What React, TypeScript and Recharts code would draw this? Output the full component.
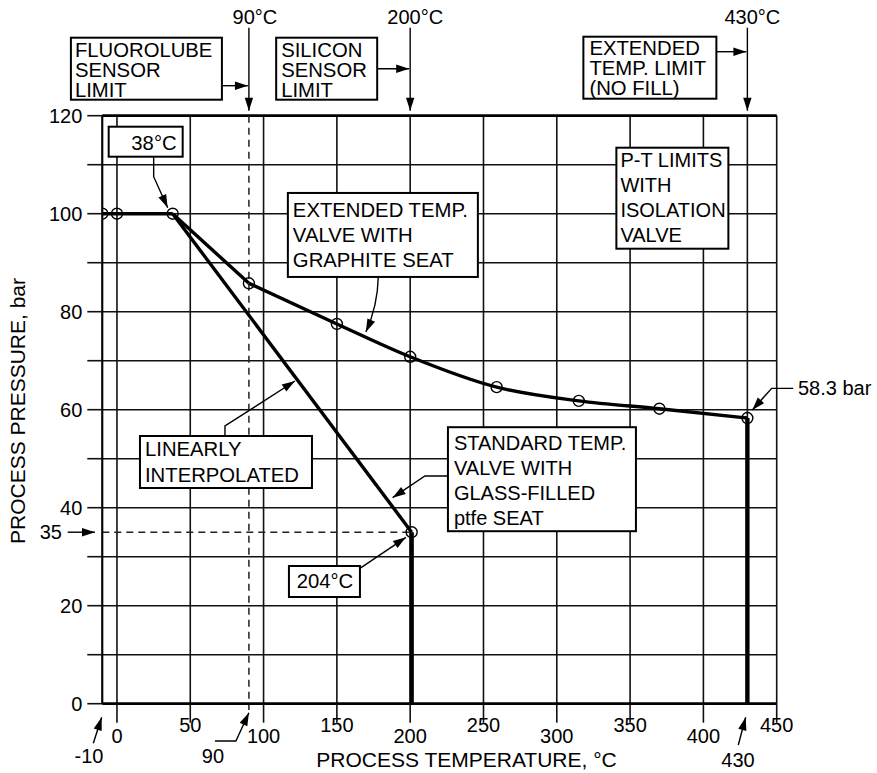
import React from 'react';
import {
  ComposedChart,
  Line,
  XAxis,
  YAxis,
  CartesianGrid,
  ReferenceLine,
  ReferenceDot,
  Label,
} from 'recharts';

const FONT = '"Liberation Sans", Arial, Helvetica, sans-serif';
const INK = '#000';
const GRID = '#111';

// ---------- data ----------
const flatTemps = [-10, 0, 38];
const flatPressures = [100, 100, 100];
const stdTemps = [38, 201];
const stdPressures = [100, 35];
const extStraightTemps = [38, 90];
const extStraightPressures = [100, 85.8];
const extCurveTemps = [90, 150, 200, 259, 315, 370, 430];
const extCurvePressures = [85.8, 77.5, 70.8, 64.6, 61.8, 60.2, 58.3];
const stdDropTemps = [201, 201];
const stdDropPressures = [35, 0];
const extDropTemps = [430, 430];
const extDropPressures = [58.3, 0];
const xTicks = [0, 50, 100, 150, 200, 250, 300, 350, 400, 450];
const yTicks = [0, 10, 20, 30, 40, 50, 60, 70, 80, 90, 100, 110, 120];
const sensorLimitTemps = [90, 200, 430];

const zip = (ts: number[], ps: number[]) => ts.map((t, i) => ({ t, p: ps[i] }));
const flatData = zip(flatTemps, flatPressures);
const stdData = zip(stdTemps, stdPressures);
const extStraightData = zip(extStraightTemps, extStraightPressures);
const extCurveData = zip(extCurveTemps, extCurvePressures);
const stdDropData = zip(stdDropTemps, stdDropPressures);
const extDropData = zip(extDropTemps, extDropPressures);

// ---------- annotation helpers ----------
type Pt = [number, number];
interface BoxSpec {
  x: number; y: number; w: number; h: number;
  lines: string[]; tx: number; ty: number; lh: number;
  anchor?: 'start' | 'middle' | 'end';
  fs?: number;
}
interface ArrowSpec { pts: Pt[]; curve?: boolean; head?: boolean }
interface TextSpec { x: number; y: number; text: string; anchor?: 'start' | 'middle' | 'end'; size?: number }
interface CalloutSpec { boxes?: BoxSpec[]; arrows?: ArrowSpec[]; texts?: TextSpec[] }

const BOX_FS = 20.3;
const TXT_FS = 20;

function Head({ tip, from }: { tip: Pt; from: Pt }) {
  const dx = tip[0] - from[0];
  const dy = tip[1] - from[1];
  const len = Math.hypot(dx, dy) || 1;
  const ux = dx / len, uy = dy / len;
  const L = 13, W = 4.2;
  const bx = tip[0] - ux * L, by = tip[1] - uy * L;
  const p1 = `${bx - uy * W},${by + ux * W}`;
  const p2 = `${bx + uy * W},${by - ux * W}`;
  return <polygon points={`${tip[0]},${tip[1]} ${p1} ${p2}`} fill={INK} />;
}

function Callout({ cx, cy, spec }: { cx: number; cy: number; spec: CalloutSpec }) {
  const P = (p: Pt): Pt => [cx + p[0], cy + p[1]];
  return (
    <g>
      {(spec.arrows || []).map((a, i) => {
        const pts = a.pts.map(P);
        let d = '';
        if (a.curve && pts.length === 3) {
          d = `M${pts[0][0]},${pts[0][1]} Q${pts[1][0]},${pts[1][1]} ${pts[2][0]},${pts[2][1]}`;
        } else {
          d = pts.map((p, j) => `${j ? 'L' : 'M'}${p[0]},${p[1]}`).join(' ');
        }
        const tip = pts[pts.length - 1];
        const from = pts[pts.length - 2];
        return (
          <g key={'a' + i}>
            <path d={d} fill="none" stroke={INK} strokeWidth={1.4} />
            {a.head !== false && <Head tip={tip} from={from} />}
          </g>
        );
      })}
      {(spec.boxes || []).map((b, i) => (
        <g key={'b' + i}>
          <rect x={cx + b.x} y={cy + b.y} width={b.w} height={b.h} fill="#fff" stroke={INK} strokeWidth={2} />
          {b.lines.map((ln, j) => (
            <text
              key={j}
              x={cx + b.tx}
              y={cy + b.ty + j * b.lh}
              textAnchor={b.anchor || 'start'}
              fontSize={b.fs || BOX_FS}
              fontFamily={FONT}
              fill={INK}
            >
              {ln}
            </text>
          ))}
        </g>
      ))}
      {(spec.texts || []).map((t, i) => (
        <text
          key={'t' + i}
          x={cx + t.x}
          y={cy + t.y}
          textAnchor={t.anchor || 'middle'}
          fontSize={t.size || TXT_FS}
          fontFamily={FONT}
          fill={INK}
        >
          {t.text}
        </text>
      ))}
    </g>
  );
}

// ---------- annotation specs (pixel offsets from anchor) ----------
const top90: CalloutSpec = {
  arrows: [
    { pts: [[0, -88], [0, -5]] },
    { pts: [[-27, -30], [-1, -30]] },
  ],
  texts: [{ x: 6, y: -92, text: '90°C' }],
  boxes: [{ x: -178, y: -78, w: 151, h: 62, lines: ['FLUOROLUBE', 'SENSOR', 'LIMIT'], tx: -174, ty: -59, lh: 20 }],
};
const top200: CalloutSpec = {
  arrows: [
    { pts: [[0, -88], [0, -5]] },
    { pts: [[-33, -47], [-1, -47]] },
  ],
  texts: [{ x: 5, y: -92, text: '200°C' }],
  boxes: [{ x: -134, y: -78, w: 101, h: 62, lines: ['SILICON', 'SENSOR', 'LIMIT'], tx: -129, ty: -59, lh: 20 }],
};
const top430: CalloutSpec = {
  arrows: [
    { pts: [[0, -88], [0, -5]] },
    { pts: [[-31, -64], [-1, -64]] },
  ],
  texts: [{ x: 5, y: -92, text: '430°C' }],
  boxes: [{ x: -164, y: -79, w: 133, h: 62, lines: ['EXTENDED', 'TEMP. LIMIT', '(NO FILL)'], tx: -158, ty: -61, lh: 20 }],
};
const ptBox: CalloutSpec = {
  boxes: [{ x: -131, y: -66, w: 112, h: 101, lines: ['P-T LIMITS', 'WITH', 'ISOLATION', 'VALVE'], tx: -127, ty: -47, lh: 25, fs: 20 }],
};
const c38: CalloutSpec = {
  arrows: [{ pts: [[-19, -57], [-19, -37], [-5, -6]] }],
  boxes: [{ x: -64, y: -87, w: 74, h: 30, lines: ['38°C'], tx: 4, ty: -64, lh: 20, anchor: 'end' }],
};
const graphite: CalloutSpec = {
  arrows: [{ pts: [[41.4, -47], [40.8, -18], [29, 8]], curve: true }],
  boxes: [{ x: -49, y: -131, w: 190, h: 84, lines: ['EXTENDED TEMP.', 'VALVE WITH', 'GRAPHITE SEAT'], tx: -44, ty: -107, lh: 25 }],
};
const linear: CalloutSpec = {
  arrows: [{ pts: [[52.3, 222.3], [52.3, 212.3], [122.3, 167.3]] }],
  boxes: [{ x: -32.7, y: 222.3, w: 172, h: 52, lines: ['LINEARLY', 'INTERPOLATED'], tx: -27.7, ty: 242.3, lh: 25.7 }],
};
const standard: CalloutSpec = {
  arrows: [{ pts: [[36.6, -56.2], [13.3, -56.2], [-19, -34.5]] }],
  boxes: [{
    x: 36.3, y: -105, w: 188, h: 104,
    lines: ['STANDARD TEMP.', 'VALVE WITH', 'GLASS-FILLED', 'ptfe SEAT'], tx: 42.3, ty: -82, lh: 25, fs: 20,
  }],
};
const c204: CalloutSpec = {
  arrows: [{ pts: [[-51.7, 36.1], [-5.7, 5.1]] }],
  boxes: [{ x: -122.7, y: 33.8, w: 71, h: 31, lines: ['204°C'], tx: -86.7, ty: 56, lh: 20, anchor: 'middle' }],
};
const c35: CalloutSpec = {
  arrows: [{ pts: [[-34.6, 0], [-7.3, 0]] }],
  texts: [{ x: -40.3, y: 6.5, text: '35', anchor: 'end' }],
};
const c583: CalloutSpec = {
  arrows: [{ pts: [[45.9, -29.7], [24.3, -29.7], [4.9, -8]] }],
  texts: [{ x: 50.6, y: -23, text: '58.3 bar', anchor: 'start' }],
};
const bm10: CalloutSpec = {
  arrows: [{ pts: [[-9, 39.6], [-0.6, 13.6]] }],
  texts: [{ x: -13.3, y: 59.6, text: '-10' }],
};
const b90: CalloutSpec = {
  arrows: [{ pts: [[-34, 37.3], [-13, 37.3], [0, 9]] }],
  texts: [{ x: -36, y: 59.6, text: '90' }],
};
const b430: CalloutSpec = {
  arrows: [{ pts: [[-9.1, 41.3], [-1.7, 13.6]] }],
  texts: [{ x: -9.4, y: 63.6, text: '430' }],
};

// ---------- ticks & dots ----------
const X_TICK_SIZE = 19;
const Y_TICK_SIZE = 15;

const XTick = (props: any) => {
  const { x, y, payload } = props;
  const v = payload.value as number;
  const low = (v / 50) % 2 === 0;
  return (
    <text x={x} y={y + (low ? 20.6 : 9)} textAnchor="middle" fontSize={TXT_FS} fontFamily={FONT} fill={INK}>
      {v}
    </text>
  );
};
const YTick = (props: any) => {
  const { x, y, payload } = props;
  const v = payload.value as number;
  if (v % 20 !== 0) return <g />;
  return (
    <text x={x} y={y + 7} textAnchor="end" fontSize={TXT_FS} fontFamily={FONT} fill={INK}>
      {v}
    </text>
  );
};
const Ring = (props: any) => {
  const { cx, cy, index } = props;
  return <circle key={'r' + index} cx={cx} cy={cy} r={5.5} fill="none" stroke={INK} strokeWidth={1.4} />;
};
const LastRing = (props: any) => {
  const { cx, cy, index } = props;
  if (index !== stdData.length - 1) return <g key={'n' + index} />;
  return <circle key={'r' + index} cx={cx} cy={cy} r={5.5} fill="none" stroke={INK} strokeWidth={1.4} />;
};

const XTitle = (props: any) => {
  const vb = props.viewBox || {};
  return (
    <text x={vb.x + vb.width / 2 + 27} y={vb.y + 63.3} textAnchor="middle" fontSize={21} fontFamily={FONT} fill={INK}>
      PROCESS TEMPERATURE, °C
    </text>
  );
};
const YTitle = (props: any) => {
  const vb = props.viewBox || {};
  const x = vb.x + vb.width - 77.3;
  const y = vb.y + vb.height / 2 + 1.3;
  return (
    <text x={x} y={y} transform={`rotate(-90 ${x} ${y})`} textAnchor="middle" fontSize={21} fontFamily={FONT} fill={INK}>
      PROCESS PRESSURE, bar
    </text>
  );
};

const dot = (spec: CalloutSpec) => (props: any) => <Callout cx={props.cx} cy={props.cy} spec={spec} />;

const Y_AXIS_W = 90;
const X_AXIS_H = 60;
const CURVE_W = 3.4;
const DROP_W = 4.4;

export default function App() {
  return (
    <div style={{ position: 'absolute', left: 0, top: 0, width: 877, height: 773, background: '#fff' }}>
      <ComposedChart
        width={877}
        height={773}
        margin={{ top: 115.7, right: 100.3, bottom: 69.3 - X_AXIS_H, left: 102.3 - Y_AXIS_W }}
      >
        <CartesianGrid stroke={GRID} strokeWidth={1.6} />
        <XAxis
          dataKey="t"
          type="number"
          domain={[-10, 450]}
          ticks={xTicks}
          interval={0}
          height={X_AXIS_H}
          tickSize={X_TICK_SIZE}
          tickMargin={0}
          tick={<XTick />}
          tickLine={{ stroke: GRID, strokeWidth: 1.6 }}
          axisLine={{ stroke: INK, strokeWidth: 2.8 }}
          allowDataOverflow
          label={<Label content={XTitle} />}
        />
        <YAxis
          dataKey="p"
          type="number"
          domain={[0, 120]}
          ticks={yTicks}
          interval={0}
          width={Y_AXIS_W}
          tickSize={Y_TICK_SIZE}
          tickMargin={5}
          tick={<YTick />}
          tickLine={{ stroke: GRID, strokeWidth: 1.6 }}
          axisLine={{ stroke: INK, strokeWidth: 1.9 }}
          allowDataOverflow
          label={<Label content={YTitle} />}
        />
        <ReferenceLine y={120} stroke={INK} strokeWidth={2.8} />
        <ReferenceLine x={sensorLimitTemps[2]} stroke={GRID} strokeWidth={1.6} />
        <ReferenceLine
          segment={[{ x: sensorLimitTemps[0], y: 120 }, { x: sensorLimitTemps[0], y: -1.3 }]}
          stroke="#222"
          strokeWidth={1.5}
          strokeDasharray="7 5"
          ifOverflow="visible"
        />
        <ReferenceLine
          segment={[{ x: -10, y: 35 }, { x: 201, y: 35 }]}
          stroke="#222"
          strokeWidth={1.5}
          strokeDasharray="7 5"
          ifOverflow="visible"
        />

        <Line data={flatData} dataKey="p" type="linear" stroke={INK} strokeWidth={CURVE_W} dot={Ring} activeDot={false} isAnimationActive={false} />
        <Line data={stdData} dataKey="p" type="linear" stroke={INK} strokeWidth={CURVE_W} dot={LastRing} activeDot={false} isAnimationActive={false} />
        <Line data={extStraightData} dataKey="p" type="linear" stroke={INK} strokeWidth={CURVE_W} dot={false} activeDot={false} isAnimationActive={false} />
        <Line data={extCurveData} dataKey="p" type="monotone" stroke={INK} strokeWidth={CURVE_W} dot={Ring} activeDot={false} isAnimationActive={false} />
        <Line data={stdDropData} dataKey="p" type="linear" stroke={INK} strokeWidth={DROP_W} dot={false} activeDot={false} isAnimationActive={false} />
        <Line data={extDropData} dataKey="p" type="linear" stroke={INK} strokeWidth={DROP_W} dot={false} activeDot={false} isAnimationActive={false} />

        <ReferenceDot x={sensorLimitTemps[0]} y={120} r={0} ifOverflow="visible" shape={dot(top90)} />
        <ReferenceDot x={sensorLimitTemps[1]} y={120} r={0} ifOverflow="visible" shape={dot(top200)} />
        <ReferenceDot x={sensorLimitTemps[2]} y={120} r={0} ifOverflow="visible" shape={dot(top430)} />
        <ReferenceDot x={430} y={100} r={0} ifOverflow="visible" shape={dot(ptBox)} />
        <ReferenceDot x={flatTemps[2]} y={flatPressures[2]} r={0} ifOverflow="visible" shape={dot(c38)} />
        <ReferenceDot x={flatTemps[2]} y={flatPressures[2]} r={0} ifOverflow="visible" shape={dot(linear)} />
        <ReferenceDot x={extCurveTemps[1]} y={extCurvePressures[1]} r={0} ifOverflow="visible" shape={dot(graphite)} />
        <ReferenceDot x={stdTemps[1]} y={stdPressures[1]} r={0} ifOverflow="visible" shape={dot(standard)} />
        <ReferenceDot x={stdTemps[1]} y={stdPressures[1]} r={0} ifOverflow="visible" shape={dot(c204)} />
        <ReferenceDot x={-10} y={stdPressures[1]} r={0} ifOverflow="visible" shape={dot(c35)} />
        <ReferenceDot x={extCurveTemps[6]} y={extCurvePressures[6]} r={0} ifOverflow="visible" shape={dot(c583)} />
        <ReferenceDot x={-10} y={0} r={0} ifOverflow="visible" shape={dot(bm10)} />
        <ReferenceDot x={sensorLimitTemps[0]} y={0} r={0} ifOverflow="visible" shape={dot(b90)} />
        <ReferenceDot x={sensorLimitTemps[2]} y={0} r={0} ifOverflow="visible" shape={dot(b430)} />
      </ComposedChart>
    </div>
  );
}
